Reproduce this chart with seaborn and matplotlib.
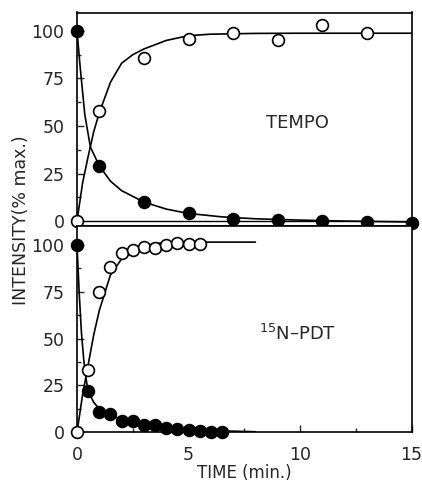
import matplotlib
matplotlib.use("Agg")
import matplotlib.pyplot as plt
import seaborn as sns
from matplotlib.ticker import MultipleLocator

# ----- Data ----- #

# TEMPO panel (top): measured points
tempo_t = [0, 1, 3, 5, 7, 9, 11, 13, 15]
tempo_open = [0, 58, 86, 96, 98.8, 95, 103, 99]          # open circles (t = 0..13)
tempo_filled = [100, 29, 10, 4, 1, 0.5, 0, -0.5, -1]     # filled circles

# TEMPO panel: fitted curves (traced)
tempo_open_fit_t = [0, 0.25, 0.5, 0.75, 1, 1.5, 2, 2.5, 3, 4, 5, 6, 8, 10, 15]
tempo_open_fit_y = [0, 20, 34, 47, 57, 73, 83, 87.5, 90.5, 95, 97.5, 98.3, 98.7, 98.8, 98.8]
tempo_filled_fit_t = [0, 0.15, 0.35, 0.6, 1, 1.5, 2, 3, 4, 5, 6.5, 8, 10, 12, 15]
tempo_filled_fit_y = [100, 80, 56, 39, 29, 21, 16, 10, 6.3, 4, 2.2, 1.2, 0.5, 0, -0.5]

# 15N-PDT panel (bottom): measured points
pdt_t = [0, 0.5, 1, 1.5, 2, 2.5, 3, 3.5, 4, 4.5, 5, 5.5, 6, 6.5]
pdt_open = [0, 33, 75, 88, 95.5, 97.5, 99, 98.5, 100, 101, 100.7, 100.7]   # t = 0..5.5
pdt_filled = [100, 22, 11, 10, 6, 6, 3.8, 3.9, 2.1, 2, 1, 0.5, 0, 0]

# 15N-PDT panel: fitted curves (traced)
pdt_open_fit_t = [0, 0.25, 0.5, 0.75, 1, 1.5, 2, 2.5, 3, 3.5, 4, 5, 6, 8]
pdt_open_fit_y = [0, 20, 36, 52, 65, 84, 92.5, 97, 99.5, 100.7, 101.3, 101.5, 101.5, 101.5]
pdt_filled_fit_t = [0, 0.1, 0.2, 0.3, 0.4, 0.5, 0.75, 1, 1.5, 2, 3, 4, 5, 6, 8]
pdt_filled_fit_y = [100, 74, 53, 39, 29, 22, 16, 12.5, 9, 7, 4.5, 2.8, 1.6, 0.9, 0.3]

# ----- Styling ----- #
sns.set_style("ticks")
plt.rcParams['font.family'] = ['DejaVu Sans']
plt.rcParams['mathtext.fontset'] = 'dejavusans'

fig = plt.figure(figsize=(4.22, 4.82), dpi=100)
left, right = 77 / 422, 411.5 / 422
y_top, y_mid, y_bot = 1 - 12.5 / 482, 1 - 226 / 482, 1 - 432.3 / 482
ax_top = fig.add_axes([left, y_mid, right - left, y_top - y_mid])
ax_bot = fig.add_axes([left, y_bot, right - left, y_mid - y_bot])

dot = dict(s=72, edgecolor='black', linewidth=1.2, clip_on=False, zorder=4, legend=False)
curve = dict(color='black', linewidth=1.2, legend=False, zorder=3)

# Top panel
sns.lineplot(x=tempo_open_fit_t, y=tempo_open_fit_y, ax=ax_top, **curve)
sns.lineplot(x=tempo_filled_fit_t, y=tempo_filled_fit_y, ax=ax_top, **curve)
ax_top.axhline(0, color='black', linewidth=1.0, zorder=2)
sns.scatterplot(x=tempo_t[:len(tempo_open)], y=tempo_open, ax=ax_top, color='white', **dot)
sns.scatterplot(x=tempo_t, y=tempo_filled, ax=ax_top, color='black', **dot)
ax_top.set_ylim(-2.6, 109.7)
ax_top.text(9.9, 51.5, 'TEMPO', fontsize=13, ha='center', va='center')

# Bottom panel
sns.lineplot(x=pdt_open_fit_t, y=pdt_open_fit_y, ax=ax_bot, **curve)
sns.lineplot(x=pdt_filled_fit_t, y=pdt_filled_fit_y, ax=ax_bot, **curve)
sns.scatterplot(x=pdt_t[:len(pdt_open)], y=pdt_open, ax=ax_bot, color='white', **dot)
sns.scatterplot(x=pdt_t, y=pdt_filled, ax=ax_bot, color='black', **dot)
ax_bot.set_ylim(0, 110.1)
ax_bot.text(9.9, 52.5, '$^{15}$N\u2013PDT', fontsize=13, ha='center', va='center')

for ax in (ax_top, ax_bot):
    ax.set_xlim(0, 15)
    ax.set_xlabel('')
    ax.set_ylabel('')
    ax.set_yticks([0, 25, 50, 75, 100])
    ax.yaxis.set_minor_locator(MultipleLocator(12.5))
    ax.xaxis.set_major_locator(MultipleLocator(5))
    ax.xaxis.set_minor_locator(MultipleLocator(2.5))
    ax.tick_params(which='both', direction='in', width=1.0, labelsize=12.5, pad=9,
                   top=False, right=False)
    ax.tick_params(which='major', length=5)
    ax.tick_params(which='minor', length=3)
    for sp in ax.spines.values():
        sp.set_visible(True)
        sp.set_linewidth(1.2)
        sp.set_color('black')

ax_top.tick_params(which='both', bottom=False, labelbottom=False)
ax_bot.tick_params(axis='x', pad=10)

ax_bot.set_xlabel('TIME (min.)', fontsize=12)
ax_bot.xaxis.set_label_coords(0.5, -0.155)
fig.text(21 / 422, 1 - 220 / 482, 'INTENSITY(% max.)', rotation=90,
         fontsize=12.5, ha='center', va='center')

fig.savefig('out.png', dpi=100)
